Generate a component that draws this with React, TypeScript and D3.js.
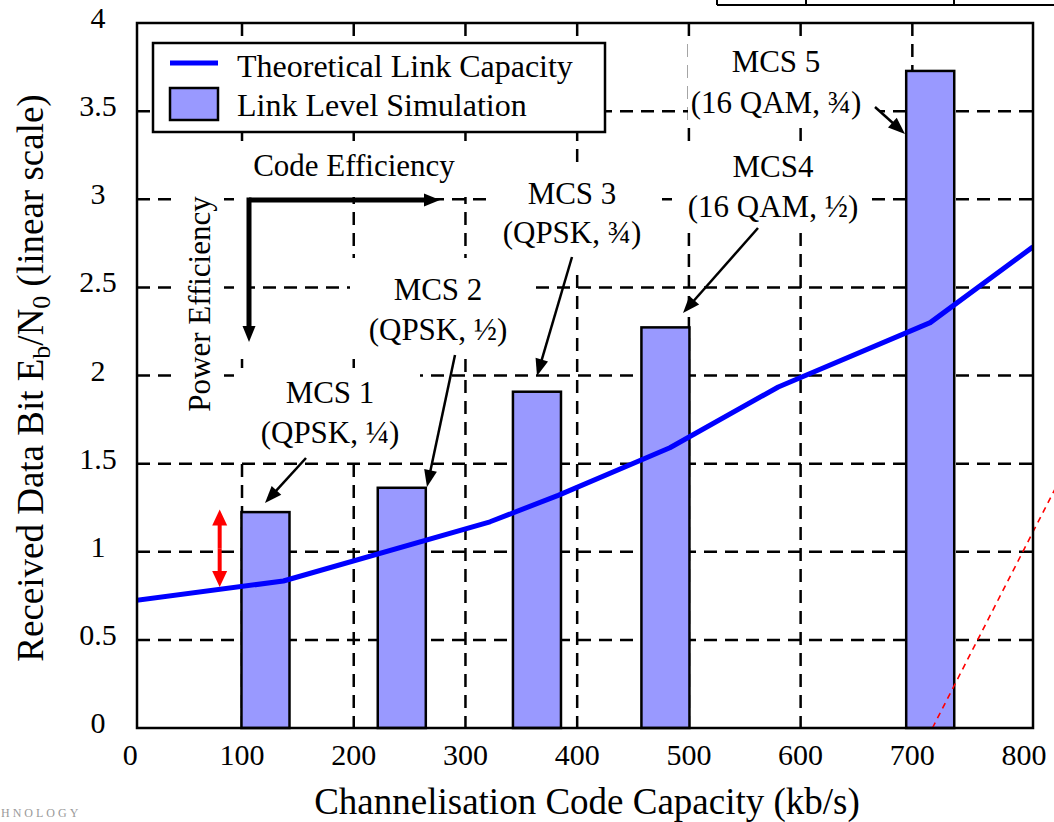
import React from 'react';
import * as d3 from 'd3';

const W = 1054;
const H = 822;

// Axis ticks
const xTickValues = [0, 100, 200, 300, 400, 500, 600, 700, 800];
const yTickValues = [0, 0.5, 1, 1.5, 2, 2.5, 3, 3.5, 4];
const xGridValues = [100, 200, 300, 400, 500, 600, 700];
const yGridValues = [0.5, 1, 1.5, 2, 2.5, 3, 3.5];

// Link level simulation: required Eb/N0 per MCS at its channelisation code capacity
const mcsNames = ['MCS 1', 'MCS 2', 'MCS 3', 'MCS4', 'MCS 5'];
const mcsModes = ['(QPSK, ¼)', '(QPSK, ½)', '(QPSK, ¾)', '(16 QAM, ½)', '(16 QAM, ¾)'];
const mcsRate = [121, 243, 364, 479, 716];
const mcsEbN0 = [1.225, 1.363, 1.908, 2.273, 3.728];
const barSpan = 43; // kb/s

// Theoretical link capacity curve
const capRate = [0, 137, 322, 383, 483, 580, 716, 808];
const capEbN0 = [0.72, 0.834, 1.17, 1.32, 1.59, 1.935, 2.3, 2.73];

// Gap between theory and simulation at the lowest MCS
const gapRate = [80, 80];
const gapEbN0 = [1.24, 0.8];

// Dashed red trend line
const trendRate = [718, 828];
const trendEbN0 = [0, 1.36];

const FONT = '"Liberation Serif", "Times New Roman", serif';

const x = d3.scaleLinear().domain([6, 808]).range([137, 1033]);
const y = d3.scaleLinear().domain([0, 4]).range([728, 23]);

type Pt = [number, number];

function Arrow({ from, to, width, head, headW, color = '#000' }: { from: Pt; to: Pt; width: number; head: number; headW: number; color?: string }) {
  const dx = to[0] - from[0];
  const dy = to[1] - from[1];
  const len = Math.hypot(dx, dy);
  const ux = dx / len;
  const uy = dy / len;
  const bx = to[0] - ux * head;
  const by = to[1] - uy * head;
  const px = -uy * headW / 2;
  const py = ux * headW / 2;
  return (
    <g>
      <line x1={from[0]} y1={from[1]} x2={bx + ux * 1} y2={by + uy * 1} stroke={color} strokeWidth={width} />
      <polygon points={`${to[0]},${to[1]} ${bx + px},${by + py} ${bx - px},${by - py}`} fill={color} />
    </g>
  );
}

// Annotation labels: text centre, baselines, white backing box, arrow start and tip
const annotations = [
  { cx: 330, base: [403, 443], box: [238, 368, 182, 92], from: [306, 458] as Pt, to: [265, 503] as Pt },
  { cx: 438, base: [300, 340], box: [350, 258, 180, 94], from: [455, 355] as Pt, to: [427, 487] as Pt },
  { cx: 572, base: [204, 243], box: [487, 163, 173, 104], from: [572, 257] as Pt, to: [537, 376] as Pt },
  { cx: 773, base: [177, 217], box: [672, 147, 200, 81], from: [758, 228] as Pt, to: [683, 313] as Pt },
  { cx: 776, base: [72, 113], box: [688, 37, 192, 86], from: [875, 107] as Pt, to: [905, 134] as Pt },
];

export default function App() {
  const capLine = d3
    .line<number>()
    .x((_, i) => x(capRate[i]))
    .y((d) => y(d));
  const trendLine = d3
    .line<number>()
    .x((_, i) => x(trendRate[i]))
    .y((d) => y(d));

  const x0 = x(6);
  const x1 = x(808);
  const y0 = y(0);
  const y1 = y(4);

  return (
    <svg
      width={W}
      height={H}
      viewBox={`0 0 ${W} ${H}`}
      style={{ position: 'absolute', left: 0, top: 0, background: '#fff', fontFamily: FONT }}
    >
      <defs>
        <clipPath id="plotClip">
          <rect x={x0} y={y1} width={x1 - x0} height={y0 - y1} />
        </clipPath>
      </defs>
      <rect x={0} y={0} width={W} height={H} fill="#fff" />

      {/* fragment of a table above the chart */}
      <g stroke="#000" strokeWidth={2}>
        <line x1={717} y1={5} x2={W} y2={5} />
        <line x1={717} y1={0} x2={717} y2={5} />
        <line x1={806} y1={0} x2={806} y2={5} />
        <line x1={954} y1={0} x2={954} y2={5} />
      </g>

      {/* dashed grid */}
      <g stroke="#000" strokeWidth={2.5} strokeDasharray="13,8">
        {xGridValues.map((v) => (
          <line key={'gx' + v} x1={x(v)} x2={x(v)} y1={y1} y2={y0} />
        ))}
        {yGridValues.map((v) => (
          <line key={'gy' + v} x1={x0} x2={x1} y1={y(v)} y2={y(v)} />
        ))}
      </g>

      {/* white backing boxes behind annotations */}
      <g fill="#fff">
        <rect x={237} y={147} width={233} height={50} />
        <rect x={172} y={190} width={52} height={228} />
        <rect x={237} y={197} width={10} height={155} />
        {annotations.map((a, i) => (
          <rect key={'bx' + i} x={a.box[0]} y={a.box[1]} width={a.box[2]} height={a.box[3]} />
        ))}
      </g>

      {/* simulation bars */}
      <g fill="#9999ff" stroke="#000" strokeWidth={2.5}>
        {mcsRate.map((r, i) => (
          <rect
            key={'bar' + i}
            x={x(r - barSpan / 2)}
            y={y(mcsEbN0[i])}
            width={x(r + barSpan / 2) - x(r - barSpan / 2)}
            height={y(0) - y(mcsEbN0[i])}
          />
        ))}
      </g>

      {/* theoretical capacity */}
      <path
        d={capLine(capEbN0) || ''}
        fill="none"
        stroke="#0000ff"
        strokeWidth={5}
        strokeLinejoin="round"
        clipPath="url(#plotClip)"
      />

      {/* red trend line */}
      <path d={trendLine(trendEbN0) || ''} fill="none" stroke="#ff0000" strokeWidth={1.6} strokeDasharray="6,5" />

      {/* plot frame */}
      <rect x={x0} y={y1} width={x1 - x0} height={y0 - y1} fill="none" stroke="#000" strokeWidth={2.5} />

      {/* red double arrow */}
      <g>
        <Arrow from={[x(gapRate[0]), (y(gapEbN0[0]) + y(gapEbN0[1])) / 2]} to={[x(gapRate[0]), y(gapEbN0[0])]} width={4} head={16} headW={15} color="#ff0000" />
        <Arrow from={[x(gapRate[1]), (y(gapEbN0[0]) + y(gapEbN0[1])) / 2]} to={[x(gapRate[1]), y(gapEbN0[1])]} width={4} head={16} headW={15} color="#ff0000" />
      </g>

      {/* efficiency axes */}
      <Arrow from={[249, 200]} to={[440, 200]} width={5} head={16} headW={13} />
      <Arrow from={[249, 197.5]} to={[249, 342]} width={5} head={16} headW={13} />
      <text x={354} y={176} fontSize={31} textAnchor="middle">Code Efficiency</text>
      <text transform="translate(210,304) rotate(-90)" fontSize={31} textAnchor="middle">Power Efficiency</text>

      {/* MCS annotations */}
      {annotations.map((a, i) => (
        <g key={'an' + i}>
          <text x={a.cx} y={a.base[0]} fontSize={31} textAnchor="middle">{mcsNames[i]}</text>
          <text x={a.cx} y={a.base[1]} fontSize={31} textAnchor="middle">{mcsModes[i]}</text>
          <Arrow from={a.from} to={a.to} width={2.5} head={17} headW={13} />
        </g>
      ))}

      {/* legend */}
      <g>
        <rect x={153} y={43} width={452} height={89} fill="#fff" stroke="#000" strokeWidth={2.5} />
        <line x1={170} x2={218} y1={63} y2={63} stroke="#0000ff" strokeWidth={5} />
        <rect x={170} y={88} width={48} height={32} fill="#9999ff" stroke="#000" strokeWidth={2.5} />
        <text x={237} y={77} fontSize={32}>Theoretical Link Capacity</text>
        <text x={237} y={116} fontSize={32}>Link Level Simulation</text>
      </g>

      {/* tick labels */}
      <g fontSize={30} textAnchor="middle">
        {xTickValues.map((v) => (
          <text key={'xt' + v} x={x(v)} y={765}>{v}</text>
        ))}
        {yTickValues.map((v) => (
          <text key={'yt' + v} x={98} y={y(v) + 5}>{v}</text>
        ))}
      </g>

      {/* axis titles */}
      <text x={587} y={814} fontSize={37} textAnchor="middle">Channelisation Code Capacity (kb/s)</text>
      <text transform="translate(43,378) rotate(-90)" fontSize={37} textAnchor="middle">
        Received Data Bit E
        <tspan fontSize={26} dy={7}>b</tspan>
        <tspan dy={-7}>/N</tspan>
        <tspan fontSize={26} dy={7}>0</tspan>
        <tspan dy={-7}> (linear scale)</tspan>
      </text>

      {/* faint logo fragment */}
      <text x={1} y={817} fontSize={12} fill="#9a9a9a" letterSpacing={3}>HNOLOGY</text>
    </svg>
  );
}
